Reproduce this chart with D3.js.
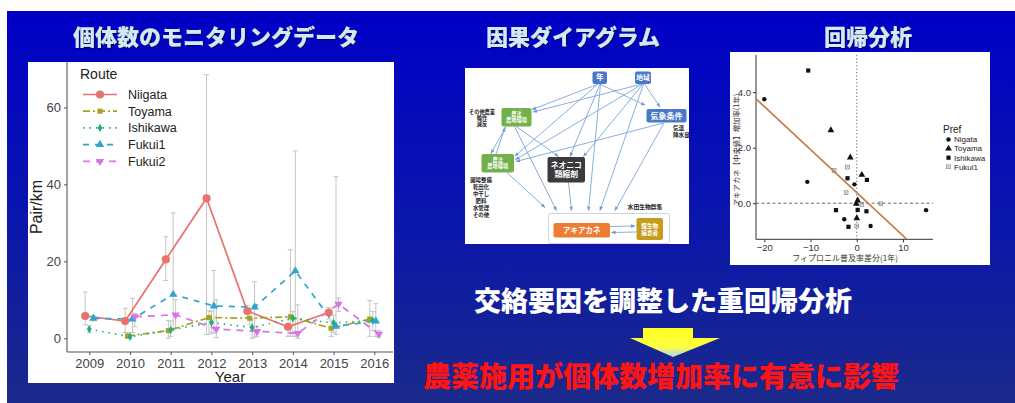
<!DOCTYPE html>
<html><head><meta charset="utf-8">
<script src="https://cdn.jsdelivr.net/npm/d3@7"></script>
<style>
html,body{margin:0;padding:0;background:#fff;}
svg{display:block;}
</style></head><body>
<svg id="c" width="1015" height="403"></svg>
<script>
// ---------- monitoring data (pairs per km, by route) ----------
const years = [2009, 2010, 2011, 2012, 2013, 2014, 2015, 2016];
const routes = ["Niigata", "Toyama", "Ishikawa", "Fukui1", "Fukui2"];
const niigata   = [5.8, 4.5, 20.5, 36.4, 7.1, 3.0, 6.7, null];
const toyama    = [null, 0.6, 2.0, 5.4, 5.2, 5.6, 2.6, 5.0];
const ishikawa  = [2.4, 0.4, 2.2, 4.1, 2.8, 5.2, 4.0, 4.6];
const fukui1    = [5.2, 5.0, 11.4, 8.4, 8.1, 17.5, 3.1, 4.5];
const fukui2    = [null, 5.6, 6.1, 2.4, 1.8, 1.3, 8.9, 1.1];
const niigataLo = [3.5, 1.5, 15.0, 1.0, 5.5, 0.5, 5.0, null];
const niigataHi = [12.0, 7.8, 26.4, 68.5, 8.5, 5.5, 8.0, null];
const toyamaLo  = [null, 0.0, 0.0, 1.0, 3.5, 0.5, 0.5, 0.5];
const toyamaHi  = [null, 1.5, 4.6, 7.2, 7.0, 23.0, 4.5, 9.8];
const ishikawaLo = [1.5, 0.0, 0.5, 1.5, 0.0, 0.5, 1.5, 2.0];
const ishikawaHi = [3.3, 1.0, 4.5, 7.0, 5.0, 7.0, 6.0, 7.0];
const fukui1Lo  = [4.5, 1.5, 2.0, 1.3, 0.3, 0.5, 1.0, 0.5];
const fukui1Hi  = [6.0, 10.4, 32.6, 17.6, 14.7, 48.7, 42.0, 9.0];
const fukui2Lo  = [null, 3.0, 2.5, 0.2, 0.5, 0.0, 7.0, 0.3];
const fukui2Hi  = [null, 6.5, 10.0, 10.0, 3.0, 8.7, 10.5, 2.0];
const yTicks = [0, 20, 40, 60];

// ---------- regression data ----------
const prefs = ["Nigata", "Toyama", "Ishikawa", "Fukui1"];
const nigataX   = [-20.0, -10.7, -0.5, -2.7, 3.0, 15.0];
const nigataY   = [3.75, 0.77, 0.68, -0.58, -0.82, -0.25];
const toyamaX   = [-5.6, -1.4, 1.1, -0.1, 0.2, 0.0];
const toyamaY   = [2.63, 1.65, 1.02, -0.02, 0.10, -0.54];
const ishikawaX = [-10.5, -2.0, 2.2, -4.5, 0.2, 2.1, -1.8];
const ishikawaY = [4.78, 0.90, 0.84, -0.25, -0.24, -0.29, -0.85];
const fukuiX    = [-4.9, -2.0, -2.3, 1.1, 5.2, 0.0];
const fukuiY    = [1.18, 1.30, 0.38, -0.04, -0.02, -0.82];
const fitIntercept = 0.38;
const fitSlope = -0.155;
const rxTicks = [-20, -10, 0, 10];
const ryTicks = [0, 2, 4];

// ---------- causal diagram ----------
const diagramNodes = [
  {id: "year",   lines: ["年"],            fill: "#4a78c6"},
  {id: "region", lines: ["地域"],          fill: "#4a78c6"},
  {id: "weather",lines: ["気象条件"],      fill: "#4a78c6"},
  {id: "farm1",  lines: ["農法", "農地環境"], fill: "#72b04a"},
  {id: "farm2",  lines: ["農法", "農地環境"], fill: "#72b04a"},
  {id: "neonic", lines: ["ネオニコ", "類縮剤"], fill: "#3b3b3b"},
  {id: "akiakane", lines: ["アキアカネ"],   fill: "#ee7d32"},
  {id: "prey",   lines: ["餌生物", "捕食者"], fill: "#c89b1c"}
];
const diagramNotes = [
  {id: "other", lines: ["その他農業", "輪作", "減反"]},
  {id: "field", lines: ["圃場整備", "乾田化", "中干し", "肥料", "水管理", "その他"]},
  {id: "climate", lines: ["気温", "降水量"]},
  {id: "community", lines: ["水田生物群集"]}
];

const FONT = "'Liberation Sans', Arial, sans-serif";
const JP = "'Noto Sans CJK JP', 'Noto Sans', sans-serif";

const svg = d3.select("#c");
const defs = svg.append("defs");

// slide background
const bg = defs.append("linearGradient").attr("id", "bg")
  .attr("x1", 0).attr("y1", 0).attr("x2", 0).attr("y2", 1);
bg.append("stop").attr("offset", "0%").attr("stop-color", "#0000c6");
bg.append("stop").attr("offset", "55%").attr("stop-color", "#0a17ab");
bg.append("stop").attr("offset", "100%").attr("stop-color", "#1b2a8a");
svg.append("rect").attr("x", 7).attr("y", 11).attr("width", 1008).attr("height", 392)
  .attr("fill", "url(#bg)");

const shadow = defs.append("filter").attr("id", "sh").attr("x", "-5%").attr("y", "-20%")
  .attr("width", "110%").attr("height", "140%");
shadow.append("feDropShadow").attr("dx", 1).attr("dy", 1).attr("stdDeviation", 0.6)
  .attr("flood-color", "#000040").attr("flood-opacity", 0.8);

// section titles
const titles = [
  {t: "個体数のモニタリングデータ", x: 216},
  {t: "因果ダイアグラム", x: 573},
  {t: "回帰分析", x: 868}
];
svg.selectAll("text.title").data(titles).join("text")
  .attr("class", "title")
  .attr("x", d => d.x).attr("y", 45)
  .attr("text-anchor", "middle")
  .attr("font-family", JP).attr("font-weight", 900).attr("font-size", 22)
  .attr("fill", "#d3e8f0").attr("filter", "url(#sh)")
  .text(d => d.t);

// =================== line chart ===================
const lc = svg.append("g");
lc.append("rect").attr("x", 28).attr("y", 62).attr("width", 366).attr("height", 321).attr("fill", "#fff");

const x = d3.scaleLinear().domain([2009, 2016]).range([89.3, 374.3]);
const y = d3.scaleLinear().domain([-3.56, 71.8]).range([352, 62]);

const seriesVals = [niigata, toyama, ishikawa, fukui1, fukui2];
const seriesLo = [niigataLo, toyamaLo, ishikawaLo, fukui1Lo, fukui2Lo];
const seriesHi = [niigataHi, toyamaHi, ishikawaHi, fukui1Hi, fukui2Hi];
const colors = ["#e8736c", "#a3a51c", "#1eae80", "#2ea4cf", "#d874e6"];
const dashes = [null, "7,3,2,3", "1.5,5", "6,6", "7,6"];
const shapes = [d3.symbolCircle, d3.symbolSquare, d3.symbolDiamond, d3.symbolTriangle, d3.symbolTriangle];
const shapeSize = [52, 26, 20, 30, 30];
const shapeRot = [0, 0, 0, 0, 180];

// dodge positions (width 0.3 shared by the routes present in each year)
const dodge = 0.3;
const series = routes.map((name, k) => ({
  name, k,
  pts: years.map((yr, i) => {
    const v = seriesVals[k][i];
    if (v == null) return null;
    const present = routes.map((_, j) => j).filter(j => seriesVals[j][i] != null);
    const n = present.length, idx = present.indexOf(k);
    const off = (idx - (n - 1) / 2) * dodge / n;
    return {yr, xv: yr + off, v, lo: seriesLo[k][i], hi: seriesHi[k][i]};
  }).filter(d => d)
}));

// axes
const yAxis = lc.append("g").attr("transform", "translate(67,0)")
  .call(d3.axisLeft(y).tickValues(yTicks).tickSize(3).tickPadding(3));
const xAxis = lc.append("g").attr("transform", "translate(0,352)")
  .call(d3.axisBottom(x).tickValues(years).tickFormat(d3.format("d")).tickSize(3).tickPadding(4));
[yAxis, xAxis].forEach(a => {
  a.select(".domain").remove();
  a.selectAll("line").attr("stroke", "#555");
  a.selectAll("text").attr("font-family", FONT).attr("font-size", 13).attr("fill", "#444");
});
lc.append("line").attr("x1", 67).attr("x2", 67).attr("y1", 62).attr("y2", 352).attr("stroke", "#555").attr("stroke-width", 1.1);
lc.append("line").attr("x1", 67).attr("x2", 393).attr("y1", 352).attr("y2", 352).attr("stroke", "#555").attr("stroke-width", 1.1);

lc.append("text").attr("transform", "translate(42,207) rotate(-90)")
  .attr("text-anchor", "middle").attr("font-family", FONT).attr("font-size", 16).attr("fill", "#222")
  .text("Pair/km");
lc.append("text").attr("x", 230).attr("y", 382).attr("text-anchor", "middle")
  .attr("font-family", FONT).attr("font-size", 15).attr("fill", "#222").text("Year");

// error bars
const eb = lc.append("g").attr("stroke", "#c4c4c4").attr("stroke-width", 1).attr("fill", "none");
series.forEach(s => s.pts.forEach(p => {
  if (p.lo == null) return;
  const cx = x(p.xv);
  eb.append("line").attr("x1", cx).attr("x2", cx).attr("y1", y(p.lo)).attr("y2", y(p.hi));
  eb.append("line").attr("x1", cx - 2.5).attr("x2", cx + 2.5).attr("y1", y(p.lo)).attr("y2", y(p.lo));
  eb.append("line").attr("x1", cx - 2.5).attr("x2", cx + 2.5).attr("y1", y(p.hi)).attr("y2", y(p.hi));
}));

// lines
const line = d3.line().x(d => x(d.xv)).y(d => y(d.v));
series.forEach(s => {
  lc.append("path").datum(s.pts).attr("d", line)
    .attr("fill", "none").attr("stroke", colors[s.k]).attr("stroke-width", 1.7)
    .attr("stroke-dasharray", dashes[s.k]);
});
// points
series.forEach(s => {
  lc.selectAll(null).data(s.pts).join("path")
    .attr("transform", d => `translate(${x(d.xv)},${y(d.v)}) rotate(${shapeRot[s.k]})`)
    .attr("d", d3.symbol().type(shapes[s.k]).size(shapeSize[s.k]))
    .attr("fill", colors[s.k]);
});

// legend
const lg = lc.append("g");
lg.append("text").attr("x", 80).attr("y", 79).attr("font-family", FONT).attr("font-size", 14)
  .attr("fill", "#222").text("Route");
routes.forEach((r, k) => {
  const ly = 94.5 + k * 16.7;
  lg.append("line").attr("x1", 83).attr("x2", 117).attr("y1", ly).attr("y2", ly)
    .attr("stroke", colors[k]).attr("stroke-width", 1.7).attr("stroke-dasharray", dashes[k]);
  lg.append("path").attr("transform", `translate(100,${ly}) rotate(${shapeRot[k]})`)
    .attr("d", d3.symbol().type(shapes[k]).size(shapeSize[k])).attr("fill", colors[k]);
  lg.append("text").attr("x", 128).attr("y", ly + 4.3).attr("font-family", FONT)
    .attr("font-size", 12.5).attr("fill", "#222").text(r);
});

// =================== causal diagram ===================
const dg = svg.append("g");
dg.append("rect").attr("x", 465).attr("y", 68).attr("width", 224).attr("height", 176).attr("fill", "#fff");
const nodeBox = {
  year:    {x: 592.5, y: 71.5, w: 14.5, h: 12.5, fs: 7.5},
  region:  {x: 635,   y: 71.5, w: 16,   h: 12.5, fs: 6.8},
  weather: {x: 646.5, y: 109,  w: 40,   h: 13.5, fs: 8},
  farm1:   {x: 501.5, y: 108,  w: 30,   h: 18.5, fs: 5.2},
  farm2:   {x: 481.5, y: 154,  w: 32.5, h: 18.5, fs: 5.2},
  neonic:  {x: 547.5, y: 157,  w: 37.5, h: 25.5, fs: 7.8},
  akiakane:{x: 553.5, y: 223,  w: 56.5, h: 14.5, fs: 7.5},
  prey:    {x: 636.5, y: 218,  w: 26.5, h: 22,   fs: 5.6}
};
const noteBox = {
  other:     {x: 482, y: 114, fs: 5.2, lh: 6.2, anchor: "middle"},
  field:     {x: 481, y: 182, fs: 5.4, lh: 7.0, anchor: "middle"},
  climate:   {x: 673, y: 130, fs: 5.6, lh: 6.8, anchor: "start"},
  community: {x: 645, y: 209, fs: 5.8, lh: 6.5, anchor: "middle"}
};
// community frame
dg.append("rect").attr("x", 548.5).attr("y", 213.5).attr("width", 121).attr("height", 30)
  .attr("rx", 2).attr("fill", "none").attr("stroke", "#c8c8c8").attr("stroke-width", 0.8);

// arrows: [x1, y1, x2, y2]
const diagramArrows = [
  [598.5, 84, 532, 109.5], [599.5, 84, 645, 105], [600, 84, 570, 156.5], [600.5, 84, 588.5, 210.5], [598, 84, 515, 156],
  [642, 84, 533, 112], [642.5, 84, 515.5, 159.5], [643, 84, 583.5, 156.5], [644.5, 84, 660, 107], [643.5, 84, 600, 210.5],
  [663.5, 123, 516, 161.5], [664, 123, 615, 210.5],
  [506, 126.5, 491, 153.5], [496, 154, 505, 127.5],
  [516.5, 126.5, 558.5, 156.5], [514.5, 126.5, 556.5, 210.5],
  [507, 172.5, 545, 207.5], [568.5, 182.5, 571.5, 210.5],
  [610, 226.5, 635, 226], [636.5, 232, 611.5, 232.5]
];
const mk = defs.append("marker").attr("id", "ah").attr("viewBox", "0 0 10 10")
  .attr("refX", 9).attr("refY", 5).attr("markerWidth", 5).attr("markerHeight", 5)
  .attr("orient", "auto-start-reverse");
mk.append("path").attr("d", "M0,1 L10,5 L0,9 z").attr("fill", "#6e9cd4");
dg.selectAll("line.arr").data(diagramArrows).join("line").attr("class", "arr")
  .attr("x1", d => d[0]).attr("y1", d => d[1]).attr("x2", d => d[2]).attr("y2", d => d[3])
  .attr("stroke", "#7aa6d8").attr("stroke-width", 0.9).attr("marker-end", "url(#ah)");

diagramNodes.forEach(n => {
  const b = nodeBox[n.id];
  dg.append("rect").attr("x", b.x).attr("y", b.y).attr("width", b.w).attr("height", b.h)
    .attr("rx", 2).attr("fill", n.fill);
  const lh = b.fs * 1.25;
  n.lines.forEach((t, i) => {
    dg.append("text").attr("x", b.x + b.w / 2)
      .attr("y", b.y + b.h / 2 + (i - (n.lines.length - 1) / 2) * lh + b.fs * 0.36)
      .attr("text-anchor", "middle").attr("font-family", JP).attr("font-weight", 700)
      .attr("font-size", b.fs).attr("fill", "#fff").text(t);
  });
});
diagramNotes.forEach(n => {
  const b = noteBox[n.id];
  n.lines.forEach((t, i) => {
    dg.append("text").attr("x", b.x).attr("y", b.y + i * b.lh)
      .attr("text-anchor", b.anchor).attr("font-family", JP).attr("font-weight", 700)
      .attr("font-size", b.fs).attr("fill", "#222").text(t);
  });
});

// =================== regression ===================
const rg = svg.append("g");
rg.append("rect").attr("x", 730).attr("y", 52).attr("width", 260).attr("height", 213).attr("fill", "#fff");
const rx = d3.scaleLinear().domain([-21.8, 16.5]).range([756, 933]);
const ry = d3.scaleLinear().domain([-1.30, 5.34]).range([239.3, 55]);
defs.append("clipPath").attr("id", "rclip").append("rect")
  .attr("x", 756).attr("y", 55).attr("width", 177).attr("height", 184.3);

const rAxY = rg.append("g").attr("transform", "translate(756,0)")
  .call(d3.axisLeft(ry).tickValues(ryTicks).tickSize(3).tickPadding(2));
const rAxX = rg.append("g").attr("transform", "translate(0,239.3)")
  .call(d3.axisBottom(rx).tickValues(rxTicks).tickSize(3).tickPadding(2));
[rAxY, rAxX].forEach(a => {
  a.select(".domain").remove();
  a.selectAll("line").attr("stroke", "#333");
  a.selectAll("text").attr("font-family", FONT).attr("font-size", 9.5).attr("fill", "#333");
});
rg.append("line").attr("x1", 756).attr("x2", 756).attr("y1", 55).attr("y2", 239.3).attr("stroke", "#333");
rg.append("line").attr("x1", 756).attr("x2", 933).attr("y1", 239.3).attr("y2", 239.3).attr("stroke", "#333");

rg.append("line").attr("x1", rx(0)).attr("x2", rx(0)).attr("y1", 55).attr("y2", 239.3)
  .attr("stroke", "#555").attr("stroke-width", 0.9).attr("stroke-dasharray", "1.2,2.2");
rg.append("line").attr("x1", 756).attr("x2", 933).attr("y1", ry(0)).attr("y2", ry(0))
  .attr("stroke", "#555").attr("stroke-width", 0.9).attr("stroke-dasharray", "3,2.5");

rg.append("line").attr("clip-path", "url(#rclip)")
  .attr("x1", rx(-21.8)).attr("y1", ry(fitIntercept + fitSlope * -21.8))
  .attr("x2", rx(16.5)).attr("y2", ry(fitIntercept + fitSlope * 16.5))
  .attr("stroke", "#c7763f").attr("stroke-width", 1.6);

const prefPts = [
  nigataX.map((v, i) => ({x: v, y: nigataY[i]})),
  toyamaX.map((v, i) => ({x: v, y: toyamaY[i]})),
  ishikawaX.map((v, i) => ({x: v, y: ishikawaY[i]})),
  fukuiX.map((v, i) => ({x: v, y: fukuiY[i]}))
];
function drawPref(g, k, cx, cy) {
  if (k === 0) g.append("circle").attr("cx", cx).attr("cy", cy).attr("r", 2.2).attr("fill", "#111");
  else if (k === 1) g.append("path").attr("transform", `translate(${cx},${cy})`)
    .attr("d", d3.symbol().type(d3.symbolTriangle).size(20)).attr("fill", "#111");
  else if (k === 2) g.append("rect").attr("x", cx - 2.1).attr("y", cy - 2.1).attr("width", 4.2).attr("height", 4.2).attr("fill", "#111");
  else {
    const h = 1.9;
    g.append("rect").attr("x", cx - h).attr("y", cy - h).attr("width", 2 * h).attr("height", 2 * h)
      .attr("fill", "none").attr("stroke", "#8a8a8a").attr("stroke-width", 0.7);
    g.append("path").attr("d", `M${cx - h},${cy - h}L${cx + h},${cy + h}M${cx + h},${cy - h}L${cx - h},${cy + h}`)
      .attr("stroke", "#8a8a8a").attr("stroke-width", 0.6);
  }
}
prefPts.forEach((pts, k) => pts.forEach(p => drawPref(rg, k, rx(p.x), ry(p.y))));

rg.append("text").attr("x", 845).attr("y", 261).attr("text-anchor", "middle")
  .attr("font-family", JP).attr("font-size", 8).attr("fill", "#333").text("フィプロニル普及率差分(1年)");
rg.append("text").attr("transform", "translate(739,150) rotate(-90)").attr("text-anchor", "middle")
  .attr("font-family", JP).attr("font-size", 7.4).attr("fill", "#333").text("アキアカネ【中央値】増加率(1年)");

rg.append("text").attr("x", 943).attr("y", 133).attr("font-family", FONT).attr("font-size", 10)
  .attr("fill", "#222").text("Pref");
prefs.forEach((p, k) => {
  const ly = 139.5 + k * 9.1;
  drawPref(rg, k, 948.5, ly);
  rg.append("text").attr("x", 954).attr("y", ly + 2.8).attr("font-family", FONT).attr("font-size", 8)
    .attr("fill", "#222").text(p);
});

// =================== conclusion ===================
svg.append("text").attr("x", 663).attr("y", 311).attr("text-anchor", "middle")
  .attr("font-family", JP).attr("font-weight", 900).attr("font-size", 27)
  .attr("fill", "#fff").text("交絡要因を調整した重回帰分析");

const ag = defs.append("linearGradient").attr("id", "arrowFill").attr("x1", 0).attr("y1", 0).attr("x2", 0).attr("y2", 1);
ag.append("stop").attr("offset", "0%").attr("stop-color", "#ffff20");
ag.append("stop").attr("offset", "65%").attr("stop-color", "#ffff40");
ag.append("stop").attr("offset", "100%").attr("stop-color", "#a8d4ff");
svg.append("path")
  .attr("d", "M643,328 L693,328 L693,338 L720,338 L673,357 L630,338 L643,338 Z")
  .attr("fill", "url(#arrowFill)");

svg.append("text").attr("x", 661).attr("y", 387).attr("text-anchor", "middle")
  .attr("font-family", JP).attr("font-weight", 900).attr("font-size", 28)
  .attr("fill", "#ff1414").text("農薬施用が個体数増加率に有意に影響");
</script>
</body></html>
